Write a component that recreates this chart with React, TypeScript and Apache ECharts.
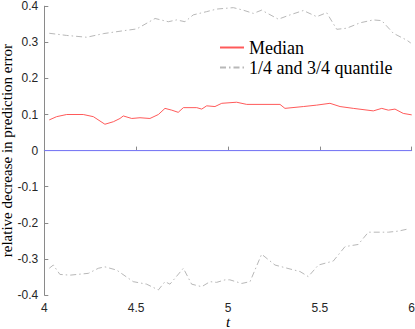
import React, { useEffect, useRef } from "react";
import * as echarts from "echarts";

const xTicks = [4, 4.5, 5, 5.5, 6];
const yTicks = [-0.4, -0.3, -0.2, -0.1, 0, 0.1, 0.2, 0.3, 0.4];

const medianT = [4.027, 4.067, 4.122, 4.212, 4.267, 4.33, 4.376, 4.412, 4.43, 4.476, 4.521, 4.575, 4.621, 4.657, 4.694, 4.729, 4.757, 4.83, 4.857, 4.884, 4.929, 4.966, 5.047, 5.102, 5.283, 5.31, 5.41, 5.483, 5.555, 5.61, 5.682, 5.791, 5.837, 5.873, 5.909, 5.954, 6.0];
const medianV = [0.085, 0.094, 0.1, 0.1, 0.094, 0.073, 0.08, 0.089, 0.096, 0.089, 0.091, 0.089, 0.1, 0.117, 0.112, 0.106, 0.119, 0.119, 0.115, 0.124, 0.122, 0.131, 0.134, 0.128, 0.128, 0.117, 0.122, 0.126, 0.131, 0.122, 0.117, 0.11, 0.117, 0.112, 0.115, 0.103, 0.099];

const upperT = [4.027, 4.122, 4.231, 4.321, 4.43, 4.503, 4.603, 4.675, 4.72, 4.766, 4.811, 4.884, 4.938, 5.029, 5.083, 5.138, 5.183, 5.274, 5.338, 5.41, 5.483, 5.537, 5.592, 5.646, 5.719, 5.791, 5.837, 5.9, 5.973, 5.995];
const upperV = [0.325, 0.319, 0.314, 0.324, 0.332, 0.337, 0.366, 0.357, 0.362, 0.357, 0.376, 0.385, 0.392, 0.396, 0.389, 0.38, 0.389, 0.364, 0.376, 0.388, 0.371, 0.382, 0.336, 0.339, 0.354, 0.362, 0.36, 0.325, 0.306, 0.298];

const lowerT = [4.027, 4.049, 4.085, 4.14, 4.24, 4.294, 4.33, 4.394, 4.484, 4.557, 4.621, 4.657, 4.684, 4.757, 4.802, 4.857, 4.902, 4.938, 4.984, 5.01, 5.075, 5.12, 5.183, 5.256, 5.338, 5.392, 5.437, 5.492, 5.573, 5.637, 5.709, 5.764, 5.873, 5.927, 5.981];
const lowerV = [-0.326, -0.317, -0.343, -0.345, -0.34, -0.326, -0.322, -0.331, -0.363, -0.37, -0.386, -0.363, -0.37, -0.326, -0.37, -0.377, -0.363, -0.365, -0.358, -0.358, -0.368, -0.363, -0.287, -0.317, -0.328, -0.335, -0.349, -0.317, -0.306, -0.266, -0.26, -0.226, -0.226, -0.223, -0.217];

const zeroT = [4, 6];
const zeroV = [0, 0];

const seriesNames = ["Median", "1/4 and 3/4 quantile"];

const zip = (t: number[], v: number[]) => t.map((x, i) => [x, v[i]]);

export default function App() {
  const ref = useRef<HTMLDivElement>(null);
  useEffect(() => {
    if (!ref.current) return;
    const chart = echarts.init(ref.current, null, { renderer: "svg" });
    const serif = "'Liberation Serif', 'Times New Roman', serif";
    const sans = "'Liberation Sans', Arial, sans-serif";
    const dashDot = [6, 3, 1.5, 3];
    chart.setOption({
      animation: false,
      backgroundColor: "#ffffff",
      grid: { left: 44.3, right: 3.3, top: 6.2, bottom: 34, containLabel: false, outerBoundsMode: "none" },
      legend: {
        orient: "vertical",
        left: 214,
        top: 33.5,
        itemWidth: 24,
        itemHeight: 12,
        itemGap: 2,
        data: seriesNames,
        itemStyle: { opacity: 0 },
        textStyle: { fontFamily: serif, fontSize: 18, lineHeight: 18, color: "#000" },
      },
      xAxis: {
        type: "value",
        min: xTicks[0],
        max: xTicks[xTicks.length - 1],
        interval: 0.5,
        name: "t",
        nameLocation: "middle",
        nameGap: 21,
        nameMoveOverlap: false,
        nameTextStyle: { fontFamily: serif, fontStyle: "italic", fontSize: 15, lineHeight: 12, color: "#000" },
        axisLine: { lineStyle: { color: "#8a8a8a", width: 1 } },
        axisTick: { inside: true, length: 4, lineStyle: { color: "#8a8a8a" } },
        axisLabel: { fontFamily: sans, fontSize: 12, lineHeight: 12, color: "#262626", margin: 7 },
        splitLine: { show: false },
      },
      yAxis: {
        type: "value",
        min: yTicks[0],
        max: yTicks[yTicks.length - 1],
        interval: 0.1,
        name: "relative decrease in prediction error",
        nameLocation: "middle",
        nameGap: 30,
        nameMoveOverlap: false,
        nameTextStyle: { fontFamily: serif, fontSize: 15, color: "#000" },
        axisLine: { show: true, lineStyle: { color: "#8a8a8a", width: 1 } },
        axisTick: { show: true, inside: true, length: 4, lineStyle: { color: "#8a8a8a" } },
        axisLabel: { fontFamily: sans, fontSize: 12, color: "#262626", margin: 6 },
        splitLine: { show: false },
      },
      series: [
        {
          name: "zero",
          type: "line",
          data: zip(zeroT, zeroV),
          showSymbol: false,
          symbol: "none",
          lineStyle: { color: "#7a7aff", width: 1 },
          z: 1,
        },
        {
          name: seriesNames[0],
          type: "line",
          data: zip(medianT, medianV),
          showSymbol: false,
          symbol: "none",
          itemStyle: { color: "#ff5a5a" },
          lineStyle: { color: "#ff5a5a", width: 1 },
          z: 3,
        },
        {
          name: seriesNames[1],
          type: "line",
          data: zip(upperT, upperV),
          showSymbol: false,
          symbol: "none",
          itemStyle: { color: "#b8b8b8" },
          lineStyle: { color: "#b8b8b8", width: 1, type: dashDot },
          z: 2,
        },
        {
          name: seriesNames[1],
          type: "line",
          data: zip(lowerT, lowerV),
          showSymbol: false,
          symbol: "none",
          itemStyle: { color: "#b8b8b8" },
          lineStyle: { color: "#b8b8b8", width: 1, type: dashDot },
          z: 2,
        },
      ],
    });
    return () => chart.dispose();
  }, []);
  return (
    <div
      ref={ref}
      style={{ position: "absolute", left: 0, top: 0, width: 415, height: 329 }}
    />
  );
}
